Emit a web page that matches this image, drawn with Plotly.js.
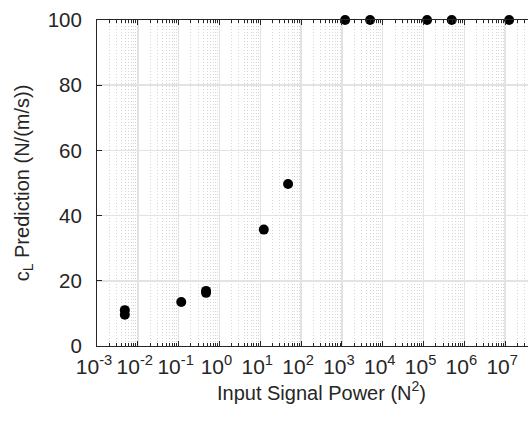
<!DOCTYPE html>
<html>
<head>
<meta charset="utf-8">
<script src="https://cdn.plot.ly/plotly-3.0.1.min.js"></script>
<style>
html, body { margin: 0; padding: 0; overflow: hidden; background: #fff; }
#chart { width: 560px; height: 425px; }
</style>
</head>
<body>
<div id="chart"></div>
<script>
// Data
const signalPower = [0.0048, 0.0048, 0.116, 0.47, 0.47, 12.2, 48, 1200, 4900, 1.22e5, 4.9e5, 1.25e7];
const cLPrediction = [11.0, 9.6, 13.5, 16.3, 16.9, 35.7, 49.7, 100, 100, 100, 100, 100];
const xTickVals = [1e-3, 1e-2, 1e-1, 1e0, 1e1, 1e2, 1e3, 1e4, 1e5, 1e6, 1e7];
const xTickText = ['10<sup>-3</sup>', '10<sup>-2</sup>', '10<sup>-1</sup>', '10<sup>0</sup>', '10<sup>1</sup>', '10<sup>2</sup>', '10<sup>3</sup>', '10<sup>4</sup>', '10<sup>5</sup>', '10<sup>6</sup>', '10<sup>7</sup>'];
const yTickVals = [0, 20, 40, 60, 80, 100];

const axisColor = '#262626';
const fontFam = '"Liberation Sans", Arial, Helvetica, sans-serif';

const trace = {
  x: signalPower,
  y: cLPrediction,
  type: 'scatter',
  mode: 'markers',
  marker: { color: '#000000', size: 10, line: { width: 0 } },
  cliponaxis: false,
  showlegend: false
};

const layout = {
  width: 560,
  height: 425,
  margin: { l: 97, r: 14.2, t: 19.5, b: 78.5 },
  paper_bgcolor: '#ffffff',
  plot_bgcolor: '#ffffff',
  font: { family: fontFam, color: axisColor, size: 20 },
  xaxis: {
    type: 'log',
    range: [-3, 8],
    tickvals: xTickVals,
    ticktext: xTickText,
    tickfont: { size: 21, color: axisColor },
    ticklabelshift: -3,
    ticklabelstandoff: 2,
    ticks: 'inside',
    ticklen: 5,
    tickcolor: axisColor,
    showline: true,
    linecolor: axisColor,
    linewidth: 1,
    mirror: 'ticks',
    showgrid: true,
    gridcolor: '#e3e3e3',
    gridwidth: 1.5,
    zeroline: false,
    minor: {
      dtick: 'D1',
      ticks: 'inside',
      ticklen: 3,
      tickcolor: axisColor,
      showgrid: true,
      gridcolor: '#d6d6d6',
      griddash: '1px,2px',
      gridwidth: 1
    },
    title: { text: 'Input Signal Power (N<sup>2</sup>)', font: { size: 20, color: axisColor }, standoff: 2 },
    automargin: false
  },
  yaxis: {
    range: [0, 100],
    tickvals: yTickVals,
    tickfont: { size: 20.5, color: axisColor },
    ticks: 'inside',
    ticklen: 5,
    tickcolor: axisColor,
    showline: true,
    linecolor: axisColor,
    linewidth: 1,
    mirror: 'ticks',
    showgrid: true,
    gridcolor: '#e3e3e3',
    gridwidth: 1.5,
    zeroline: false,
    ticklabelstandoff: 10,
    title: { text: 'c<sub>L</sub> Prediction (N/(m/s))', font: { size: 20, color: axisColor }, standoff: 12 },
    automargin: false
  }
};

Plotly.newPlot('chart', [trace], layout, { displayModeBar: false, staticPlot: true });
</script>
</body>
</html>
